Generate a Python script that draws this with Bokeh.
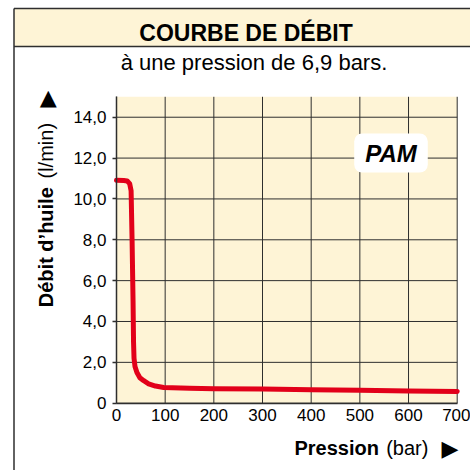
import math
from bokeh.plotting import figure
from bokeh.models import Label, BoxAnnotation, FixedTicker, Range1d, LinearAxis
from bokeh.embed import file_html
from bokeh.resources import INLINE

# ---- data ----
pression = [0, 15, 22, 27, 30, 32, 34, 35, 36, 38, 42, 48, 56, 66, 80, 97,
            150, 200, 300, 400, 500, 600, 700]
debit = [10.92, 10.9, 10.88, 10.75, 10.4, 8.0, 5.0, 3.0, 2.2, 1.8, 1.5, 1.25,
         1.1, 0.95, 0.84, 0.77, 0.73, 0.71, 0.69, 0.66, 0.63, 0.60, 0.57]

x_ticks = [0, 100, 200, 300, 400, 500, 600, 700]
x_tick_labels = ["0", "100", "200", "300", "400", "500", "600", "700"]
y_ticks = [0, 2, 4, 6, 8, 10, 12, 14]
y_tick_labels = ["0", "2,0", "4,0", "6,0", "8,0", "10,0", "12,0", "14,0"]
x_min, x_max = 0, 700
y_min, y_max = 0, 15

title_text = "COURBE DE DÉBIT"
subtitle_text = "à une pression de 6,9 bars."
ylabel_bold = "Débit d’huile"
ylabel_unit = "(l/min)"
xlabel_bold = "Pression"
xlabel_unit = "(bar)"
badge_text = "PAM"

# ---- layout (pixels) ----
W = H = 470
PX_LEFT, PX_RIGHT = 116.0, 456.7      # pixel x of x_min / x_max
PY_BOTTOM, PY_TOP = 402.7, 96.3       # pixel y (from top) of y_min / y_max
kx = (PX_RIGHT - PX_LEFT) / (x_max - x_min)
ky = (PY_BOTTOM - PY_TOP) / (y_max - y_min)
xr_start = x_min - PX_LEFT / kx
yr_start = y_min - (H - PY_BOTTOM) / ky

def px(xpix):   # page pixel x -> data x
    return xr_start + xpix / kx

def py(ypix):   # page pixel y (from top) -> data y
    return yr_start + (H - ypix) / ky

CREAM = "#FEF4D6"
DARK = "#2e2e2e"
RED = "#E2001A"
FONT = "Liberation Sans"
ASC = {"Liberation Sans": 0.905, "DejaVu Sans": 0.928}

p = figure(width=W, height=H, title=None,
           x_range=Range1d(xr_start, xr_start + W / kx),
           y_range=Range1d(yr_start, yr_start + H / ky),
           x_axis_location=None, y_axis_location=None,
           output_backend="svg", toolbar_location=None,
           min_border=0, background_fill_color="white", border_fill_color="white",
           outline_line_color=None)
p.xgrid.visible = False
p.ygrid.visible = False

# header band and outer frame
p.quad(left=[px(13.5)], right=[px(W + 50)], top=[py(8)], bottom=[py(46)],
       fill_color=CREAM, line_color=None)
p.segment(x0=[px(13.5), px(13.5), px(13.5)], y0=[py(8), py(8), py(46)],
          x1=[px(13.5), px(W + 50), px(W + 50)], y1=[py(H + 50), py(8), py(46)],
          line_color=DARK, line_width=1.5)

# plot area background
p.add_layout(BoxAnnotation(left=x_min, right=x_max, bottom=y_min, top=y_max,
                           fill_color=CREAM, fill_alpha=1, line_alpha=0, level="image"))

# grid lines from tick lists
p.segment(x0=x_ticks, y0=[y_min] * len(x_ticks), x1=x_ticks, y1=[y_max] * len(x_ticks),
          line_color=DARK, line_width=1)
p.segment(x0=[x_min] * len(y_ticks), y0=y_ticks, x1=[x_max] * len(y_ticks), y1=y_ticks,
          line_color=DARK, line_width=1)

# axes fixed at the data origin
xaxis = LinearAxis(fixed_location=y_min, bounds=(x_min, x_max), ticker=FixedTicker(ticks=x_ticks))
yaxis = LinearAxis(fixed_location=x_min, bounds=(y_min, y_max), ticker=FixedTicker(ticks=y_ticks))
xaxis.major_label_overrides = {t: l for t, l in zip(x_ticks, x_tick_labels)}
yaxis.major_label_overrides = {t: l for t, l in zip(y_ticks, y_tick_labels)}
for ax in (xaxis, yaxis):
    ax.axis_line_color = DARK
    ax.axis_line_width = 1.5
    ax.major_tick_line_color = DARK
    ax.major_tick_line_width = 1.5
    ax.minor_tick_line_color = None
    ax.major_label_text_font = FONT
    ax.major_label_text_font_size = "17px"
    ax.major_label_text_color = "black"
    ax.major_label_standoff = 6
xaxis.major_tick_out = 0
xaxis.major_tick_in = 0
yaxis.major_tick_out = 4
yaxis.major_tick_in = 0
p.add_layout(xaxis, "below")
p.add_layout(yaxis, "left")

p.line(pression, debit, line_color=RED, line_width=5, line_cap="round", line_join="round")

# badge
p.add_layout(Label(x=px(390.5), y=py(152.5), text=badge_text, text_font=FONT, text_font_size="24px",
                   text_font_style="bold italic", text_color="black",
                   text_align="center", text_baseline="middle",
                   background_fill_color="white", border_radius=8, padding=(11, 6)))

# texts: (x, y) = start / centre of the text baseline in page pixels
def lab(text, x, y, size, style="normal", align="left", rotated=False, font=FONT):
    a = ASC[font] * size
    if rotated:
        lx, ly, ang = x - a, y, math.pi / 2
    else:
        lx, ly, ang = x, y - a, 0
    p.add_layout(Label(x=px(lx), y=py(ly), text=text,
                       text_font=font, text_font_size=f"{size}px", text_font_style=style,
                       text_color="black", text_align=align, text_baseline="top",
                       angle=ang))

lab(title_text, 245.5, 40, 23, "bold", "center")
lab(subtitle_text, 253.5, 69, 22, "normal", "center")

lab(xlabel_bold, 294, 455, 20, "bold")
lab(xlabel_unit, 385.7, 455, 20)
lab("▶", 441, 456, 22, font="DejaVu Sans")

lab(ylabel_bold, 53, 306.7, 20, "bold", rotated=True)
lab(ylabel_unit, 53, 178, 20, rotated=True)
lab("▶", 54, 107, 22, rotated=True, font="DejaVu Sans")

open("out.html", "w").write(file_html(p, INLINE))
